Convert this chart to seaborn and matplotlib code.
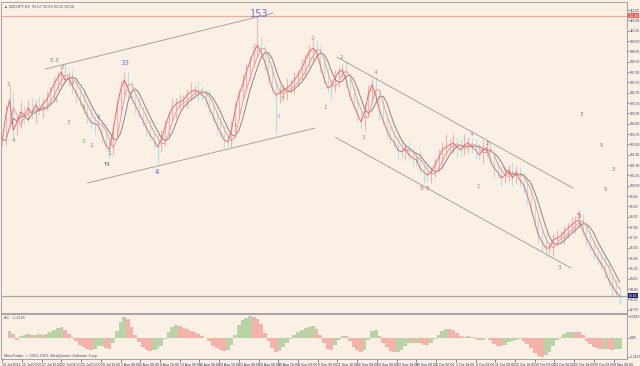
import numpy as np
import pandas as pd
import matplotlib
matplotlib.use("Agg")
import matplotlib.pyplot as plt
import seaborn as sns

# ---------------- data ----------------
bars_per_sample = 3
closes = [103.38, 104.95, 105.89, 104.00, 104.51, 105.14, 104.89, 105.39, 105.07, 105.58,
          105.26, 105.64, 105.89, 106.40, 106.90, 107.28, 107.65, 107.15, 107.28, 106.77,
          106.33, 105.89, 105.39, 104.89, 104.51, 104.38, 104.32, 103.69, 103.06, 102.75,
          104.00, 105.39, 106.52, 107.15, 106.65, 106.02, 105.58, 105.07, 104.63, 104.13,
          103.69, 103.38, 102.93, 103.38, 104.13, 104.89, 105.39, 105.64, 105.77, 105.89,
          106.21, 106.40, 106.52, 106.40, 106.21, 106.02, 105.39, 104.89, 104.32, 103.88,
          103.38, 103.25, 104.00, 105.26, 106.21, 106.84, 107.65, 108.28, 108.91, 109.35,
          108.91, 108.28, 107.47, 106.65, 106.21, 106.33, 106.52, 106.65, 106.84, 107.15,
          107.47, 107.91, 108.41, 108.91, 109.16, 108.91, 108.09, 107.28, 106.65, 106.77,
          107.28, 107.65, 107.78, 107.15, 106.21, 105.58, 105.07, 104.51, 105.14, 106.21,
          106.84, 106.21, 105.26, 104.63, 104.00, 103.50, 103.25, 102.75, 102.62, 102.87,
          102.43, 102.24, 102.12, 101.61, 101.36, 101.17, 101.36, 101.80, 102.24, 102.75,
          102.93, 103.06, 103.19, 102.93, 102.75, 103.06, 103.19, 102.93, 102.75, 102.43,
          102.75, 102.87, 102.12, 101.61, 101.36, 100.98, 101.17, 101.49, 100.98, 101.36,
          100.86, 100.54, 99.91, 99.10, 98.22, 97.40, 96.96, 96.58, 96.58, 97.08,
          97.21, 97.33, 97.59, 97.84, 98.03, 98.22, 98.34, 97.71, 97.21, 96.77,
          96.33, 95.95, 95.57, 95.20, 94.57, 94.19, 93.81, 93.56]

wick_up = [0.3, 0.6, 0.4, 0.5, 0.3, 0.7, 0.4, 0.5, 0.6, 0.3,
           0.5, 0.4, 0.6, 0.3, 0.5, 0.4, 0.3, 0.6, 0.4, 0.5,
           0.3, 0.4, 0.6, 0.3, 0.5, 0.4, 0.7, 0.3, 0.4, 0.3,
           0.4, 0.5, 0.6, 0.3, 0.5, 0.4, 0.3, 0.5, 0.4, 0.3,
           0.5, 0.3, 0.4, 0.6, 0.5, 0.3, 0.6, 0.4, 0.5, 0.3,
           0.4, 0.6, 0.3, 0.5, 0.4, 0.3, 0.5, 0.4, 0.3, 0.5,
           0.4, 0.3, 0.6, 0.5, 0.4, 0.7, 0.5, 0.4, 0.6, 0.3,
           0.5, 0.4, 0.3, 0.6, 0.4, 0.5, 0.3, 0.6, 0.4, 0.5,
           0.3, 0.6, 0.4, 0.5, 0.3, 0.5, 0.4, 0.3, 0.6, 0.4,
           0.5, 0.3, 0.4, 0.6, 0.3, 0.5, 0.4, 0.3, 0.5, 0.6,
           0.4, 0.5, 0.3, 0.6, 0.4, 0.3, 0.5, 0.4, 0.6, 0.3,
           0.4, 0.5, 0.3, 0.6, 0.4, 0.5, 0.3, 0.4, 0.6, 0.5,
           0.8, 0.4, 0.6, 0.3, 0.5, 0.7, 0.4, 0.3, 0.5, 0.4,
           0.6, 0.5, 0.4, 0.3, 0.5, 0.4, 0.6, 0.3, 0.5, 0.4,
           0.3, 0.4, 0.3, 0.5, 0.4, 0.3, 0.4, 0.5, 0.3, 0.4,
           0.5, 0.3, 0.4, 0.3, 0.5, 0.4, 0.6, 0.4, 0.3, 0.4,
           0.3, 0.4, 0.3, 0.5, 0.4, 0.3, 0.4, 0.3]
wick_dn = [0.4, 0.3, 0.5, 0.6, 0.3, 0.4, 0.5, 0.3, 0.4, 0.6,
           0.3, 0.5, 0.4, 0.3, 0.6, 0.4, 0.5, 0.3, 0.4, 0.5,
           0.6, 0.4, 0.3, 0.5, 0.4, 0.6, 0.3, 0.5, 0.4, 0.5,
           0.3, 0.4, 0.5, 0.3, 0.6, 0.4, 0.5, 0.3, 0.4, 0.5,
           0.4, 0.6, 0.5, 0.3, 0.4, 0.5, 0.3, 0.6, 0.4, 0.3,
           0.5, 0.3, 0.4, 0.6, 0.3, 0.5, 0.4, 0.3, 0.6, 0.4,
           0.5, 0.4, 0.3, 0.5, 0.6, 0.3, 0.4, 0.5, 0.3, 0.4,
           0.3, 0.5, 0.6, 0.4, 0.3, 0.5, 0.4, 0.6, 0.3, 0.5,
           0.4, 0.3, 0.5, 0.4, 0.6, 0.3, 0.5, 0.4, 0.3, 0.5,
           0.4, 0.6, 0.3, 0.5, 0.4, 0.3, 0.6, 0.4, 0.5, 0.3,
           0.5, 0.4, 0.6, 0.3, 0.5, 0.4, 0.3, 0.6, 0.4, 0.5,
           0.3, 0.5, 0.4, 0.3, 0.6, 0.4, 0.5, 0.3, 0.4, 0.6,
           0.4, 0.3, 0.5, 0.6, 0.4, 0.3, 0.5, 0.4, 0.6, 0.3,
           0.5, 0.4, 0.3, 0.6, 0.4, 0.5, 0.3, 0.4, 0.5, 0.3,
           0.4, 0.5, 0.6, 0.4, 0.3, 0.5, 0.6, 0.4, 0.3, 0.5,
           0.4, 0.3, 0.5, 0.4, 0.3, 0.5, 0.4, 0.3, 0.5, 0.4,
           0.5, 0.4, 0.3, 0.5, 0.4, 0.6, 0.3, 0.4]

spike_idx = [2, 16, 29, 33, 42, 69, 74, 84, 89, 97, 114, 147, 167]
spike_price = [106.83, 108.09, 102.24, 107.65, 101.93, 111.24, 103.82, 109.66, 105.89,
               104.13, 100.67, 96.01, 93.06]

resistance = 111.18

price_ticks = [92.70, 93.35, 94.00, 94.65, 95.30, 95.95, 96.60, 97.25, 97.90, 98.55,
               99.20, 99.85, 100.50, 101.15, 101.80, 102.45, 103.10, 103.75, 104.40, 105.05,
               105.70, 106.35, 107.00, 107.65, 108.30, 108.95, 109.60, 110.25, 110.90, 111.55]

date_bars = [0, 16, 32, 48, 64, 80, 96, 112, 128, 144, 160, 176, 192, 208, 224, 240,
             256, 272, 288, 304, 320, 336, 352, 368, 384, 400, 416, 432, 448, 464, 480, 496]
date_labels = ["10 Jul 2013", "15 Jul 00:00", "17 Jul 16:00", "22 Jul 08:00", "25 Jul 00:00",
               "29 Jul 16:00", "1 Aug 08:00", "6 Aug 00:00", "8 Aug 16:00", "13 Aug 08:00",
               "16 Aug 00:00", "20 Aug 16:00", "23 Aug 08:00", "28 Aug 00:00", "30 Aug 16:00",
               "4 Sep 08:00", "9 Sep 00:00", "11 Sep 16:00", "16 Sep 08:00", "19 Sep 00:00",
               "23 Sep 16:00", "26 Sep 08:00", "1 Oct 00:00", "3 Oct 16:00", "8 Oct 08:00",
               "11 Oct 00:00", "15 Oct 16:00", "18 Oct 08:00", "23 Oct 00:00", "25 Oct 16:00",
               "30 Oct 08:00", "4 Nov 00:00"]

wave_text = ["3", "4", "5 3", "2", "1", "3", "4", "5", "3", "2", "4", "1", "T4",
             "33", "4", "1", "153", "1", "3", "2",
             "1", "2", "3", "4", "1", "5 5", "4", "2", "1", "3", "5",
             "3", "5", "3", "5"]
wave_bar = [4.9, 8.9, 42.2, 48.7, 43.8, 53.5, 56.8, 65.7, 65.7, 72.2, 77.9, 86.8, 84.3,
            99.8, 125.7, 189.0, 208.4, 223.8, 227.1, 251.4,
            262.0, 274.9, 292.8, 302.5, 336.6, 343.1, 381.2, 393.3, 386.0, 451.7, 468.0,
            469.6, 485.8, 495.5, 489.0]
wave_price = [106.89, 103.37, 108.40, 107.96, 105.89, 104.50, 106.96, 105.45, 103.31, 103.00,
              104.82, 102.55, 101.86,
              108.22, 101.36, 104.32, 111.30, 104.88, 106.01, 109.79,
              105.45, 108.59, 103.56, 107.65, 102.11, 100.35, 103.75, 103.18, 100.48, 95.38,
              98.59, 105.01, 103.00, 101.55, 100.23]
wave_color = ["#7aa05a", "#7aa05a", "#6f7f60", "#7aa05a", "#7aa05a", "#7aa05a", "#7aa05a",
              "#7aa05a", "#7aa05a", "#7aa05a", "#7aa05a", "#5f9a3a", "#4f6a3f",
              "#7a78d8", "#5a60d8", "#7aa05a", "#7070d0", "#e070d8", "#7aa05a", "#e070d8",
              "#e06060", "#e06060", "#e06060", "#e06060", "#7aa05a", "#e06070", "#e070e0",
              "#e06060", "#e06060", "#e06060", "#e05050",
              "#707a6a", "#707a6a", "#707a6a", "#707a6a"]
wave_size = [4, 4, 4, 4, 4, 4, 4, 4, 4, 4, 4, 4.5, 4,
             5, 5, 4, 7, 4.5, 4, 4.5,
             4, 4, 4, 4, 4, 4.5, 4.5, 4, 4, 4, 5,
             4, 4, 4, 4]

trend_x0 = [34.9, 68.9, 271.7, 270.1]
trend_p0 = [107.84, 100.67, 108.59, 103.56]
trend_x1 = [219.8, 253.9, 463.1, 461.5]
trend_p1 = [111.36, 104.13, 100.35, 95.32]

# ---------------- derived series ----------------
df = pd.DataFrame({"close": closes, "wu": wick_up, "wd": wick_dn})
df["bar"] = np.arange(len(df)) * bars_per_sample
df["prev"] = df["close"].shift(1).fillna(df["close"])
df["high"] = df[["close", "prev"]].max(axis=1) + df["wu"]
df["low"] = df[["close", "prev"]].min(axis=1) - df["wd"]
df["ma_fast"] = df["close"]
df["ma_mid"] = df["close"].rolling(2, min_periods=1).mean().shift(1).bfill()
df["ma_slow"] = df["close"].rolling(4, min_periods=1).mean().shift(1).bfill()
df["osc"] = df["close"].rolling(2, min_periods=1).mean() - df["close"].rolling(8, min_periods=1).mean()

# ---------------- style ----------------
bg = "#FAF0E6"
sns.set_style("white")
plt.rcParams["font.family"] = ["DejaVu Sans"]
narrow = ["Liberation Sans Narrow", "Liberation Sans", "DejaVu Sans"]

fig = plt.figure(figsize=(6.4, 3.66), dpi=100, facecolor=bg)
ax = fig.add_axes([1 / 640, 1 - 313 / 366, 626 / 640, 311 / 366])
oax = fig.add_axes([1 / 640, 1 - 359 / 366, 626 / 640, 45 / 366])
for a in (ax, oax):
    a.set_facecolor(bg)
    for s in a.spines.values():
        s.set_color("#a8a4a4")
        s.set_linewidth(0.7)

xmin, xmax = -1.0, 506.9
ax.set_xlim(xmin, xmax)
ax.set_ylim(92.49, 112.06)

# bars (low-high lines)
up = df["close"] >= df["prev"]
ax.vlines(df["bar"][up], df["low"][up], df["high"][up], color="#f6b0ae", lw=0.8, zorder=1)
ax.vlines(df["bar"][~up], df["low"][~up], df["high"][~up], color="#aee4e2", lw=0.8, zorder=1)
sp_bar = [df["bar"][i] for i in spike_idx]
sp_base = [df["close"][i] for i in spike_idx]
sp_col = ["#f5b8b8" if p > b else "#a8e4e4" for p, b in zip(spike_price, sp_base)]
ax.vlines(sp_bar, sp_base, spike_price, colors=sp_col, lw=0.8, zorder=1)

# horizontal lines
ax.axhline(resistance, color="#f4a898", lw=0.9, zorder=2)
ax.axhline(closes[-1], color="#aaa4a0", lw=0.9, zorder=2)

# moving averages
sns.lineplot(data=df, x="bar", y="ma_slow", ax=ax, color="#8c8482", lw=0.7, zorder=3)
sns.lineplot(data=df, x="bar", y="ma_mid", ax=ax, color="#f39a9a", lw=0.7, zorder=3)
sns.lineplot(data=df, x="bar", y="ma_fast", ax=ax, color="#ef6a6a", lw=0.7, zorder=4)

# trend lines
for x0, p0, x1, p1 in zip(trend_x0, trend_p0, trend_x1, trend_p1):
    ax.plot([x0, x1], [p0, p1], color="#a8a29e", lw=0.7, zorder=2)

# wave labels
for t, b, p, c, s in zip(wave_text, wave_bar, wave_price, wave_color, wave_size):
    ax.text(b, p, t, color=c, fontsize=s, ha="center", va="center", zorder=5)

# price axis on the right
ax.yaxis.tick_right()
ax.set_yticks(price_ticks)
ax.set_yticklabels([f"{v:.2f}" for v in price_ticks], family=narrow)
ax.tick_params(axis="y", labelsize=2.4, labelcolor="#3a3a70", color="#555555",
               length=1.5, width=0.5, pad=0.6, right=True, left=False)
ax.set_xticks([])
ax.set_xlabel("")
ax.set_ylabel("")

# highlighted price tags
for val, fc in ((resistance, "#f05a48"), (closes[-1], "#1c2468")):
    ax.text(1.003, val, f"{val:.2f}", transform=ax.get_yaxis_transform(), family=narrow,
            fontsize=2.4, color="white", va="center", ha="left",
            bbox=dict(boxstyle="square,pad=0.15", fc=fc, ec="none"), clip_on=False, zorder=6)

ax.text(0.004, 0.993, "\u25B2 NZDJPY,H4  93.67 93.68 93.55 93.56", transform=ax.transAxes,
        fontsize=2.8, color="#505070", va="top", ha="left", family=narrow)

# oscillator
oax.set_xlim(xmin, xmax)
dosc = df["osc"].diff().fillna(0)
ocol = np.where(dosc >= 0, "#b9d2a6", "#f5b2a8")
oax.bar(df["bar"], df["osc"], width=bars_per_sample, color=ocol, lw=0, zorder=2)
omax, omin = df["osc"].max(), df["osc"].min()
pad = (omax - omin) * 0.05
oax.set_ylim(omin - pad, omax + pad)
oax.yaxis.tick_right()
oax.set_yticks([omin, 0.0, omax])
oax.set_yticklabels([f"{omin:.4f}", "0.00", f"{omax:.4f}"], family=narrow)
oax.tick_params(axis="y", labelsize=2.4, labelcolor="#3a3a70", color="#555555",
                length=1.5, width=0.5, pad=0.6)
oax.text(0.004, 0.96, f"AC  {df['osc'].iloc[-1]:.4f}", transform=oax.transAxes,
         fontsize=2.8, color="#505070", va="top", ha="left", family=narrow)
oax.text(0.004, 0.03, "MetaTrader, \u00a9 2001-2013, MetaQuotes Software Corp.",
         transform=oax.transAxes, fontsize=2.8, color="#505070", va="bottom", ha="left",
         family=narrow)

oax.set_xticks(date_bars)
oax.set_xticklabels(date_labels, ha="left", family=narrow)
oax.tick_params(axis="x", labelsize=2.5, labelcolor="#3a3a70", color="#555555",
                length=2, width=0.5, pad=0.8, bottom=True)
oax.set_xlabel("")
oax.set_ylabel("")

fig.savefig("out.png", dpi=100, facecolor=bg)
